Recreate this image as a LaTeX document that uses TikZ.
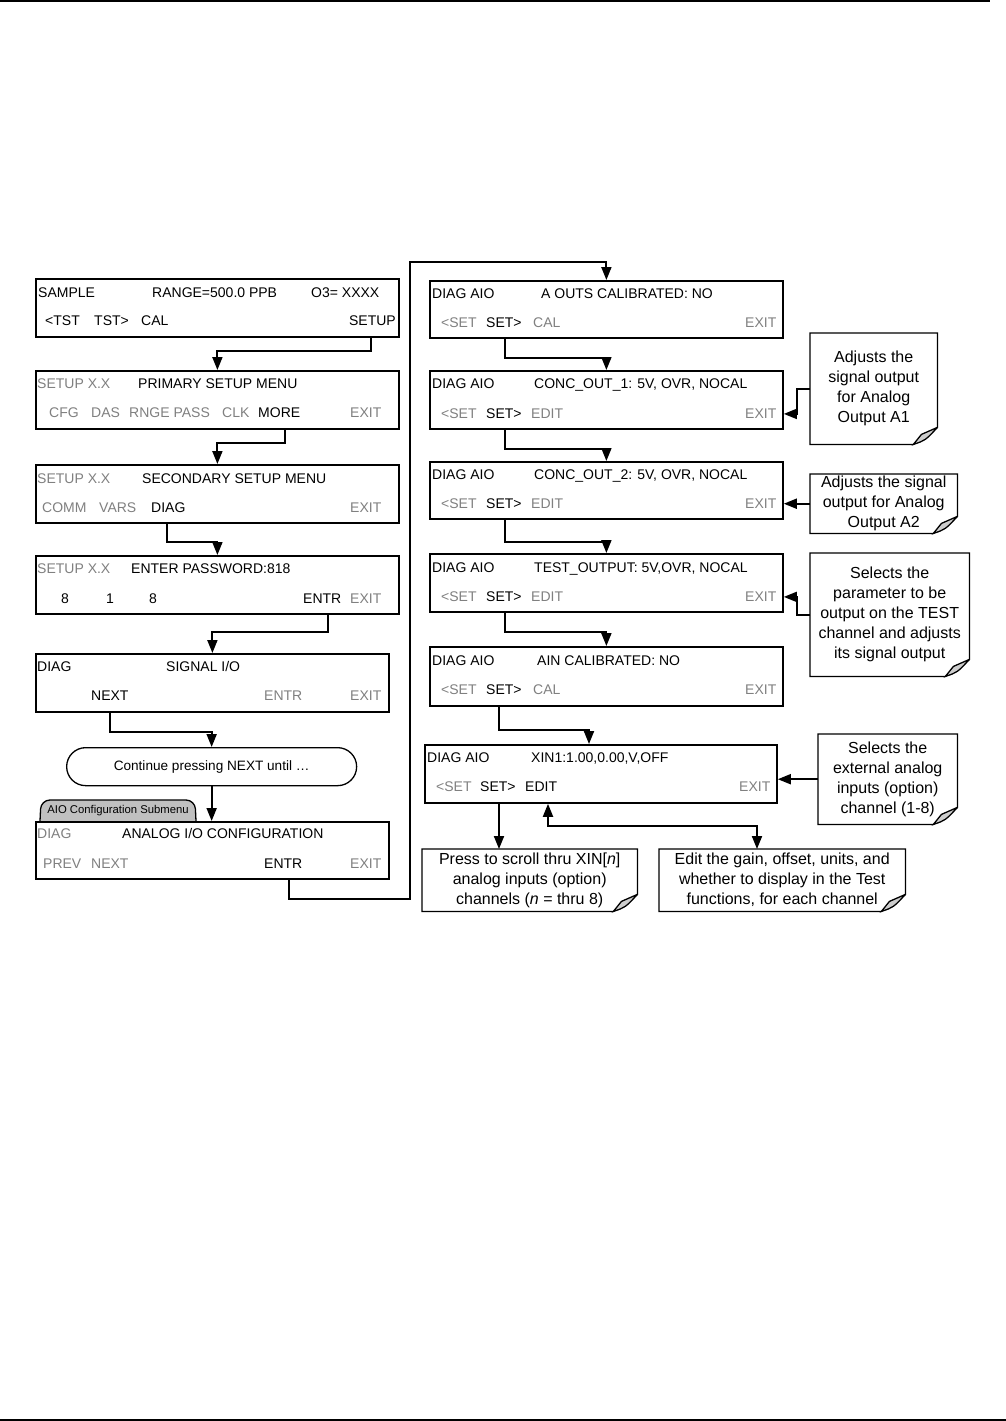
\documentclass[tikz,border=0pt]{standalone}
\usepackage{fontspec}
\setmainfont{Liberation Sans}
\usetikzlibrary{arrows.meta,calc}
\definecolor{inact}{RGB}{128,128,128}
\definecolor{tabgray}{RGB}{192,192,192}
\definecolor{foldgray}{RGB}{205,205,205}
\newcommand\boxfont{\fontsize{14}{16}\selectfont}
\newcommand\notefont{\fontsize{16}{20}\selectfont}
\newcommand\notecorner[1]{%
  \draw[notel] (#1.north west) -- (#1.north east) -- ([yshift=17]#1.south east)
     -- ([xshift=-24]#1.south east) -- (#1.south west) -- cycle;
  \filldraw[notel,fill=foldgray] ([yshift=17]#1.south east) -- ([xshift=-16,yshift=10]#1.south east)
     -- ([xshift=-24]#1.south east) .. controls ([xshift=-12,yshift=4]#1.south east) .. ([yshift=17]#1.south east);
}
\begin{document}
\begin{tikzpicture}[x=1pt,y=1pt,
 box/.style={draw,line width=1.8pt,anchor=north west,inner sep=0pt,minimum height=58pt},
 txt/.style={anchor=base west,inner sep=0pt,font=\boxfont,text=black},
 gr/.style={txt,text=inact},
 arr/.style={line width=1.9pt,-{Triangle[length=13pt,width=10pt]}},
 arrboth/.style={line width=1.9pt,{Triangle[length=13pt,width=10pt]}-{Triangle[length=13pt,width=10pt]}},
 notebox/.style={draw=none,anchor=north west,inner sep=0pt,align=center,font=\notefont},
 notel/.style={line width=1.3pt},
]
\useasboundingbox (0,0) rectangle (1006,-1421);
\fill[white] (0,0) rectangle (1006,-1421);
% page rules
\draw[line width=1.5pt] (0,-1) -- (990,-1);
\draw[line width=1.5pt] (0,-1420) -- (1006,-1420);

% ---------- left column boxes
\node[box,minimum width=363pt] (b1) at (35,-278) {};
\node[box,minimum width=363pt] (b2) at (35,-370) {};
\node[box,minimum width=363pt] (b3) at (35,-464) {};
\node[box,minimum width=363pt] (b4) at (35,-555) {};
\node[box,minimum width=353pt] (b5) at (35,-653) {};
\node[draw,line width=1.3pt,rounded corners=19pt,minimum width=290pt,minimum height=38pt,anchor=north west,font=\fontsize{13.6}{15}\selectfont] (pill) at (66,-747) {Continue pressing NEXT until \ldots};
\filldraw[line width=1.3pt,fill=tabgray,rounded corners=9pt] (40,-821) -- (41,-800) -- (195,-800) -- (196,-821);
\node[font=\fontsize{11.3}{13}\selectfont,inner sep=0pt] (tab) at (118,-811) {AIO Configuration Submenu};
\node[box,minimum width=353pt,minimum height=57pt,fill=white] (b8) at (35,-821) {};

% texts b1
\node[txt] (b1a) at (38,-297) {SAMPLE};
\node[txt] (b1b) at (152,-297) {RANGE=500.0 PPB};
\node[txt] (b1c) at (311,-297) {O3= XXXX};
\node[txt] (b1d) at (45,-325) {<TST};
\node[txt] (b1e) at (94,-325) {TST>};
\node[txt] (b1f) at (141,-325) {CAL};
\node[txt,anchor=base east] (b1g) at (396,-325) {SETUP};
% b2
\node[gr] (b2a) at (37,-388) {SETUP X.X};
\node[txt] (b2b) at (138,-388) {PRIMARY SETUP MENU};
\node[gr] (b2c) at (49,-417) {CFG};
\node[gr] (b2d) at (91,-417) {DAS};
\node[gr] (b2e) at (129,-417) {RNGE PASS};
\node[gr] (b2f) at (222,-417) {CLK};
\node[txt] (b2g) at (258,-417) {MORE};
\node[gr] (b2h) at (350,-417) {EXIT};
% b3
\node[gr] (b3a) at (37,-483) {SETUP X.X};
\node[txt] (b3b) at (142,-483) {SECONDARY SETUP MENU};
\node[gr] (b3c) at (42,-512) {COMM};
\node[gr] (b3d) at (99,-512) {VARS};
\node[txt] (b3e) at (151,-512) {DIAG};
\node[gr] (b3f) at (350,-512) {EXIT};
% b4
\node[gr] (b4a) at (37,-573) {SETUP X.X};
\node[txt] (b4b) at (131,-573) {ENTER PASSWORD:818};
\node[txt] (b4c) at (61,-603) {8};
\node[txt] (b4d) at (106,-603) {1};
\node[txt] (b4e) at (149,-603) {8};
\node[txt] (b4f) at (303,-603) {ENTR};
\node[gr] (b4g) at (350,-603) {EXIT};
% b5
\node[txt] (b5a) at (37,-671) {DIAG};
\node[txt] (b5b) at (166,-671) {SIGNAL I/O};
\node[txt] (b5c) at (91,-700) {NEXT};
\node[gr] (b5d) at (264,-700) {ENTR};
\node[gr] (b5e) at (350,-700) {EXIT};
% b8
\node[gr] (b8a) at (37,-838) {DIAG};
\node[txt] (b8b) at (122,-838) {ANALOG I/O CONFIGURATION};
\node[gr] (b8c) at (43,-868) {PREV};
\node[gr] (b8d) at (91,-868) {NEXT};
\node[txt] (b8e) at (264,-868) {ENTR};
\node[gr] (b8f) at (350,-868) {EXIT};

% ---------- right column boxes
\node[box,minimum width=353pt,minimum height=57pt] (r1) at (429,-280) {};
\node[box,minimum width=353pt] (r2) at (429,-370) {};
\node[box,minimum width=353pt,minimum height=57pt] (r3) at (429,-461) {};
\node[box,minimum width=353pt] (r4) at (429,-553) {};
\node[box,minimum width=353pt,minimum height=59pt] (r5) at (429,-646) {};
\node[box,minimum width=352pt] (r6) at (424,-744) {};

\node[txt] (r1a) at (432,-298) {DIAG AIO};
\node[txt] (r1b) at (541,-298) {A OUTS CALIBRATED: NO};
\node[gr] (r1c) at (441,-327) {<SET};
\node[txt] (r1d) at (486,-327) {SET>};
\node[gr] (r1e) at (533,-327) {CAL};
\node[gr] (r1f) at (745,-327) {EXIT};

\node[txt] (r2a) at (432,-388) {DIAG AIO};
\node[txt] (r2b) at (534,-388) {CONC\_OUT\_1: 5V, OVR, NOCAL};
\node[gr] (r2c) at (441,-418) {<SET};
\node[txt] (r2d) at (486,-418) {SET>};
\node[gr] (r2e) at (531,-418) {EDIT};
\node[gr] (r2f) at (745,-418) {EXIT};

\node[txt] (r3a) at (432,-479) {DIAG AIO};
\node[txt] (r3b) at (534,-479) {CONC\_OUT\_2: 5V, OVR, NOCAL};
\node[gr] (r3c) at (441,-508) {<SET};
\node[txt] (r3d) at (486,-508) {SET>};
\node[gr] (r3e) at (531,-508) {EDIT};
\node[gr] (r3f) at (745,-508) {EXIT};

\node[txt] (r4a) at (432,-572) {DIAG AIO};
\node[txt] (r4b) at (534,-572) {TEST\_OUTPUT: 5V,OVR, NOCAL};
\node[gr] (r4c) at (441,-601) {<SET};
\node[txt] (r4d) at (486,-601) {SET>};
\node[gr] (r4e) at (531,-601) {EDIT};
\node[gr] (r4f) at (745,-601) {EXIT};

\node[txt] (r5a) at (432,-665) {DIAG AIO};
\node[txt] (r5b) at (537,-665) {AIN CALIBRATED: NO};
\node[gr] (r5c) at (441,-694) {<SET};
\node[txt] (r5d) at (486,-694) {SET>};
\node[gr] (r5e) at (533,-694) {CAL};
\node[gr] (r5f) at (745,-694) {EXIT};

\node[txt] (r6a) at (427,-762) {DIAG AIO};
\node[txt] (r6b) at (531,-762) {XIN1:1.00,0.00,V,OFF};
\node[gr] (r6c) at (436,-791) {<SET};
\node[txt] (r6d) at (480,-791) {SET>};
\node[txt] (r6e) at (525,-791) {EDIT};
\node[gr] (r6f) at (739,-791) {EXIT};

% ---------- notes
\node[notebox,minimum width=127pt,minimum height=111pt] (n1) at (810,-333) {Adjusts the\\signal output\\for Analog\\Output A1};
\node[notebox,minimum width=147pt,minimum height=59pt] (n2) at (810,-474) {Adjusts the signal\\output for Analog\\Output A2};
\node[notebox,minimum width=159pt,minimum height=123pt] (n3) at (810,-553) {Selects the\\parameter to be\\output on the TEST\\channel and adjusts\\its signal output};
\node[notebox,minimum width=139pt,minimum height=90pt] (n4) at (818,-734) {Selects the\\external analog\\inputs (option)\\channel (1-8)};
\node[notebox,minimum width=215pt,minimum height=62pt] (n5) at (422,-849) {Press to scroll thru XIN[\textit{n}]\\analog inputs (option)\\channels (\textit{n} = thru 8)};
\node[notebox,minimum width=246pt,minimum height=62pt] (n6) at (659,-849) {Edit the gain, offset, units, and\\whether to display in the Test\\functions, for each channel};
\notecorner{n1}
\notecorner{n2}
\notecorner{n3}
\notecorner{n4}
\notecorner{n5}
\notecorner{n6}

% ---------- connectors left
\draw[arr] ([xshift=336pt]b1.south west) -- ++(0,-13) -| (b2.north);
\draw[arr] ([xshift=250pt]b2.south west) -- ++(0,-13) -| (b3.north);
\draw[arr] ([xshift=132pt]b3.south west) -- ++(0,-18) -| (b4.north);
\draw[arr] ([xshift=293pt]b4.south west) -- ++(0,-17) -| (b5.north);
\draw[arr] ([xshift=75pt]b5.south west) -- ++(0,-19) -| (pill.north);
\draw[arr] (pill.south) -- (pill.south |- b8.north);
\coordinate (up) at (410,-262);
\draw[arr] ([xshift=254pt]b8.south west) -- ++(0,-19) -| (up) -| (r1.north);

% ---------- connectors right
\draw[arr] ([xshift=76pt]r1.south west) -- ++(0,-19) -| (r2.north);
\draw[arr] ([xshift=76pt]r2.south west) -- ++(0,-19) -| (r3.north);
\draw[arr] ([xshift=76pt]r3.south west) -- ++(0,-22) -| (r4.north);
\draw[arr] ([xshift=76pt]r4.south west) -- ++(0,-19) -| (r5.north);
\coordinate (t6) at ([xshift=165pt]r6.north west);
\draw[arr] ([xshift=70pt]r5.south west) -- ++(0,-23) -| (t6);
\coordinate (s6) at ([xshift=75pt]r6.south west);
\draw[arr] (s6) -- (s6 |- n5.north);
\coordinate (e6) at ([xshift=124pt]r6.south west);
\coordinate (e7) at ([xshift=98pt]n6.north west);
\draw[arrboth] (e6) -- ++(0,-22) -| (e7);

% notes to EXIT
\draw[arr] (n1.west) -- ++(-13,0) |- ([yshift=-14pt]r2.east);
\draw[arr] (n2.west) -- (n2.west -| r3.east);
\draw[arr] (n3.west) -- ++(-13,0) |- ([yshift=-14pt]r4.east);
\draw[arr] (n4.west) -- (n4.west -| r6.east);
\end{tikzpicture}
\end{document}
